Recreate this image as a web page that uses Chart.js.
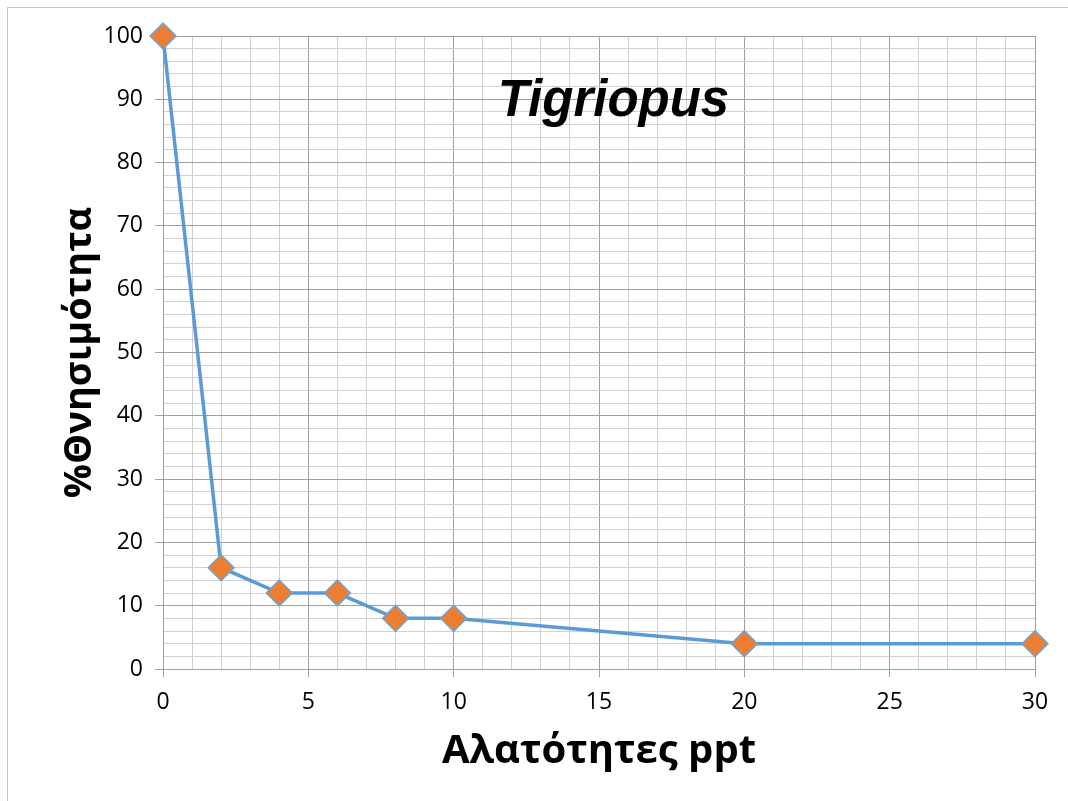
<!DOCTYPE html>
<html>
<head>
<meta charset="utf-8">
<script src="https://cdn.jsdelivr.net/npm/chart.js@4"></script>
<style>
  html, body { margin: 0; padding: 0; background: #fff; }
  #wrap { width: 1068px; height: 801px; }
</style>
</head>
<body>
<div id="wrap"><canvas id="myChart"></canvas></div>
<script>
// Datos del grafico
const salinity = [0, 2, 4, 6, 8, 10, 20, 30];
const mortality = [100, 16, 12, 12, 8, 8, 4, 4];
const xTitle = 'Αλατότητες ppt';
const yTitle = '%Θνησιμότητα';
const chartLabel = 'Tigriopus';
const labelPos = { x: 15.5, y: 87.4 };

const majorGrid = '#a0a0a0';
const minorGrid = '#d0d0d0';

// Marco exterior y titulo dentro del area
const extras = {
  id: 'extras',
  beforeDraw(chart) {
    const c = chart.ctx;
    c.save();
    c.fillStyle = '#fff';
    c.fillRect(0, 0, chart.width, chart.height);
    c.strokeStyle = '#c8c8c8';
    c.lineWidth = 1;
    c.strokeRect(7.5, 7.5, chart.width + 20, chart.height + 20);
    c.restore();
  },
  afterDraw(chart) {
    const c = chart.ctx;
    const x = chart.scales.x.getPixelForValue(labelPos.x);
    const y = chart.scales.y.getPixelForValue(labelPos.y);
    c.save();
    c.font = 'italic bold 51px "Liberation Sans", Arial, sans-serif';
    c.fillStyle = '#000';
    c.textAlign = 'center';
    c.textBaseline = 'alphabetic';
    c.fillText(chartLabel, x, y);
    c.restore();
  }
};

let ctx = document.getElementById('myChart');
let myChart = new Chart(ctx, {
  type: 'scatter',
  data: {
    datasets: [{
      data: salinity.map((s, i) => ({ x: s, y: mortality[i] })),
      showLine: true,
      borderColor: '#5b9bd5',
      borderWidth: 3.5,
      pointStyle: 'rectRot',
      pointRadius: 13,
      pointHoverRadius: 13,
      pointBackgroundColor: '#ed7d31',
      pointBorderColor: '#6aa5dc',
      pointBorderWidth: 1.5,
      clip: false
    }]
  },
  options: {
    responsive: true,
    maintainAspectRatio: false,
    animation: false,
    layout: { padding: { top: 36, right: 33, left: 0, bottom: 0 } },
    plugins: { legend: { display: false }, tooltip: { enabled: false } },
    scales: {
      x: {
        type: 'linear',
        min: 0,
        max: 30,
        afterFit: (s) => { s.height = 132; },
        ticks: {
          stepSize: 1,
          autoSkip: false,
          maxRotation: 0,
          padding: 12,
          color: '#000',
          font: { family: '"Open Sans", sans-serif', size: 23 },
          callback: (v) => (v % 5 === 0 ? v : '')
        },
        grid: {
          color: (c) => (c.tick && c.tick.value % 5 === 0 ? majorGrid : minorGrid),
          tickColor: (c) => (c.tick && c.tick.value % 5 === 0 ? majorGrid : 'rgba(0,0,0,0)'),
          tickLength: 8
        },
        border: { color: majorGrid },
        title: {
          display: true,
          text: xTitle,
          color: '#000',
          font: { family: '"Open Sans", sans-serif', size: 40, weight: 'bold' },
          padding: { bottom: 25 }
        }
      },
      y: {
        min: 0,
        max: 100,
        afterFit: (s) => { s.width = 163; },
        ticks: {
          stepSize: 2,
          autoSkip: false,
          padding: 12,
          color: '#000',
          font: { family: '"Open Sans", sans-serif', size: 23 },
          callback: (v) => (v % 10 === 0 ? v : '')
        },
        grid: {
          color: (c) => (c.tick && c.tick.value % 10 === 0 ? majorGrid : minorGrid),
          tickColor: (c) => (c.tick && c.tick.value % 10 === 0 ? majorGrid : 'rgba(0,0,0,0)'),
          tickLength: 8
        },
        border: { color: majorGrid },
        title: {
          display: true,
          text: yTitle,
          color: '#000',
          font: { family: '"Open Sans", sans-serif', size: 38, weight: 'bold' },
          padding: { top: 57 }
        }
      }
    }
  },
  plugins: [extras]
});
</script>
</body>
</html>
